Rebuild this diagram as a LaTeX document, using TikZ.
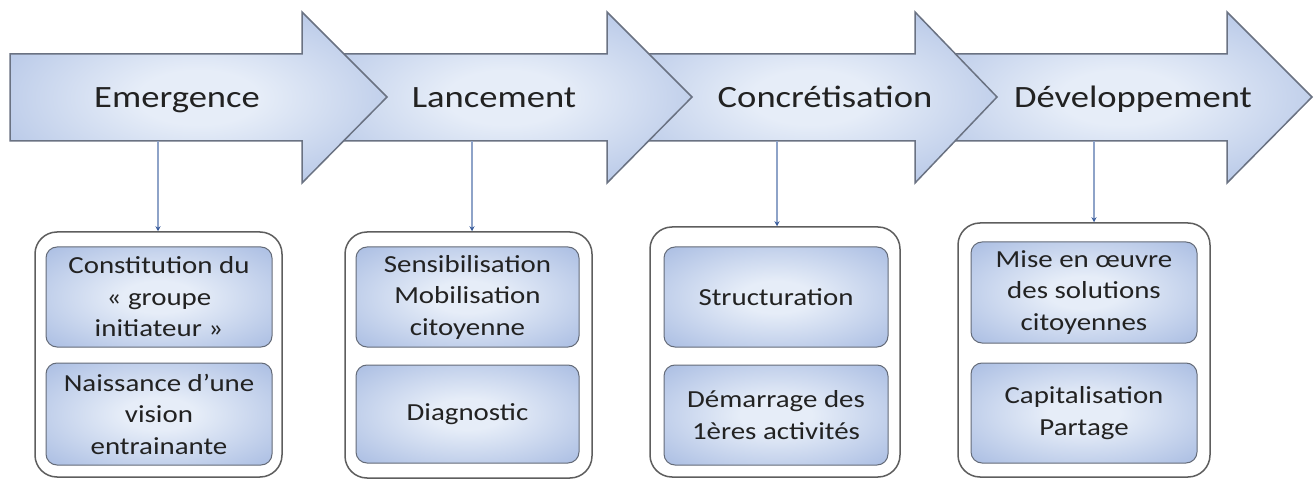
\documentclass[tikz,border=0pt]{standalone}
\usepackage{fontspec}
\setmainfont{Carlito}[FakeStretch=1.18]
\usetikzlibrary{arrows.meta}
\definecolor{edgeblue}{HTML}{98AFDC}
\definecolor{midblue}{HTML}{E6EDF8}
\definecolor{arrowline}{HTML}{6A7282}
\definecolor{boxline}{HTML}{5E5E5E}
\definecolor{innerline}{HTML}{646B78}
\definecolor{linkblue}{HTML}{8EA3C8}
\definecolor{headblue}{HTML}{3A5D9C}
\definecolor{txt}{HTML}{222222}
\pgfdeclareradialshading{soft}{\pgfpoint{0bp}{0bp}}{color(0bp)=(midblue); color(8bp)=(midblue); color(44bp)=(edgeblue); color(72bp)=(edgeblue)}
\tikzset{
  bigarrow/.style={draw=arrowline, line width=1.5pt, shading=soft, line join=miter},
  outerbox/.style={draw=boxline, line width=1.5pt, fill=white, rounded corners=22pt, inner sep=0pt},
  innerbox/.style={draw=innerline, line width=1pt, rounded corners=11pt, shading=soft, align=center, text=txt, font=\fontsize{24.5}{31.5}\selectfont, inner sep=0pt},
  heading/.style={text=txt, font=\fontsize{31}{36}\selectfont, anchor=base, inner sep=0pt},
  link/.style={draw=linkblue, line width=1.3pt, -{Stealth[length=5pt,width=5pt,color=headblue]}}
}
\newcommand\stagearrow[3]{\path[bigarrow] (#1,54) -- (#2,54) -- (#2,12) -- (#3,97) -- (#2,183) -- (#2,141) -- (#1,141) -- cycle;}
\begin{document}
\begin{tikzpicture}[x=1pt,y=-1pt]
\useasboundingbox (0,0) rectangle (1315,481);
% arrows, right to left so each head lies over the next body
\stagearrow{930}{1227}{1312}
\stagearrow{625}{915}{997}
\stagearrow{320}{607}{692}
\stagearrow{10}{302}{387}
\node[heading] (h1) at (177,108) {Emergence};
\node[heading] (h2) at (494,108) {Lancement};
\node[heading] (h3) at (825,108) {Concrétisation};
\node[heading] (h4) at (1133,108) {Développement};
\coordinate (k1) at (158,141);
\coordinate (k2) at (472,141);
\coordinate (k3) at (777,141);
\coordinate (k4) at (1094,141);
% outer boxes
\node[outerbox, minimum width=247pt, minimum height=245pt] (b1) at (158.5,354.5) {};
\node[outerbox, minimum width=247pt, minimum height=246pt] (b2) at (468.5,355) {};
\node[outerbox, minimum width=250pt, minimum height=250pt] (b3) at (775,352) {};
\node[outerbox, minimum width=252pt, minimum height=254pt] (b4) at (1084,350) {};
% inner boxes
\node[innerbox, minimum width=226pt, minimum height=100pt] (b1a) at (159,297) {Constitution du\\«~groupe\\initiateur~»};
\node[innerbox, minimum width=226pt, minimum height=102pt] (b1b) at (159,414) {Naissance d’une\\vision\\entrainante};
\node[innerbox, minimum width=223pt, minimum height=100pt] (b2a) at (467.5,297) {Sensibilisation\\Mobilisation\\citoyenne};
\node[innerbox, minimum width=223pt, minimum height=98pt] (b2b) at (467.5,414) {Diagnostic};
\node[innerbox, minimum width=224pt, minimum height=100pt] (b3a) at (776,297) {Structuration};
\node[innerbox, minimum width=224pt, minimum height=100pt] (b3b) at (776,415) {Démarrage des\\1ères activités};
\node[innerbox, minimum width=226pt, minimum height=101pt] (b4a) at (1084,292.5) {Mise en œuvre\\des solutions\\citoyennes};
\node[innerbox, minimum width=226pt, minimum height=100pt] (b4b) at (1084,413) {Capitalisation\\Partage};
% connectors
\draw[link] (k1) -- (k1 |- b1.north);
\draw[link] (k2) -- (k2 |- b2.north);
\draw[link] (k3) -- (k3 |- b3.north);
\draw[link] (k4) -- (k4 |- b4.north);
\end{tikzpicture}
\end{document}
